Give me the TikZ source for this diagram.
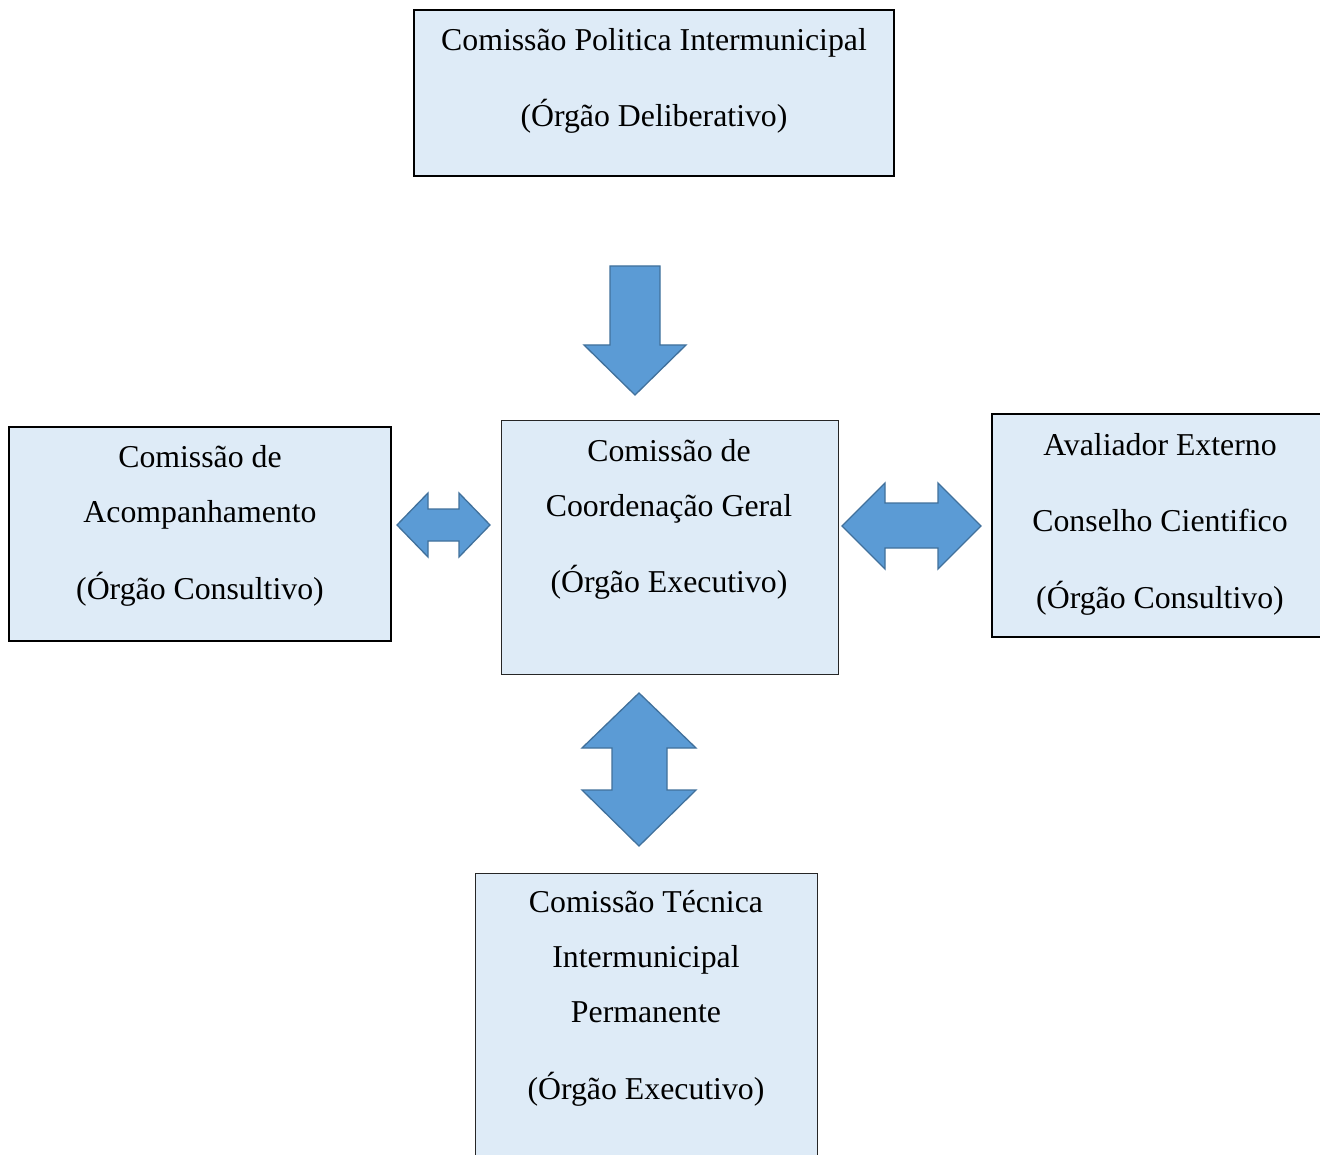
\documentclass[tikz,border=0pt]{standalone}
\usepackage{fontspec}
\setmainfont{Liberation Serif}
\begin{document}
\begin{tikzpicture}[x=1pt,y=-1pt,
  boxfill/.style={fill=boxblue},
  orgbox/.style={boxfill,draw=black,line width=1.3pt},
  lbl/.style={anchor=base,inner sep=0pt,font=\fontsize{31.8}{36}\selectfont},
  blockarrow/.style={fill=arrowfill,draw=arrowline,line width=1.3pt,line join=miter}]
\definecolor{boxblue}{HTML}{DEEBF7}
\definecolor{arrowfill}{HTML}{5B9BD5}
\definecolor{arrowline}{HTML}{41719C}
\useasboundingbox (0,0) rectangle (1320,1155);
\clip (0,0) rectangle (1320,1155);
\fill[white] (0,0) rectangle (1320,1155);
% boxes
\draw[orgbox,line width=2.2pt] (414,10) rectangle (894,176);
\draw[orgbox] (9,427) rectangle (391,641);
\draw[orgbox,line width=1pt,draw=black!85] (501,421) rectangle (838,674);
\draw[orgbox] (992,414) rectangle (1329,637);
\draw[orgbox,line width=1pt,draw=black!85] (475,873) rectangle (817,1170);
% texts
\node[lbl] (t1) at (654,51) {Comissão Politica Intermunicipal};
\node[lbl] (t2) at (654,127) {(Órgão Deliberativo)};
\node[lbl] (l1) at (200,467) {Comissão de};
\node[lbl] (l2) at (200,522) {Acompanhamento};
\node[lbl] (l3) at (200,599) {(Órgão Consultivo)};
\node[lbl] (c1) at (669,461) {Comissão de};
\node[lbl] (c2) at (669,516) {Coordenação Geral};
\node[lbl] (c3) at (669,592) {(Órgão Executivo)};
\node[lbl] (r1) at (1160,455) {Avaliador Externo};
\node[lbl] (r2) at (1160,531) {Conselho Cientifico};
\node[lbl] (r3) at (1160,608) {(Órgão Consultivo)};
\node[lbl] (b1) at (646,912) {Comissão Técnica};
\node[lbl] (b2) at (646,967) {Intermunicipal};
\node[lbl] (b3) at (646,1022) {Permanente};
\node[lbl] (b4) at (646,1099) {(Órgão Executivo)};
% down arrow
\draw[blockarrow] (610,266) -- (660,266) -- (660,345) -- (686,345) -- (635,395)
  -- (584,345) -- (610,345) -- cycle;
% left double arrow
\draw[blockarrow] (397,525) -- (428,493) -- (428,509) -- (459,509) -- (459,493)
  -- (490,525) -- (459,557) -- (459,541) -- (428,541) -- (428,557) -- cycle;
% right double arrow
\draw[blockarrow] (842,526) -- (885,483) -- (885,503) -- (938,503) -- (938,483)
  -- (981,526) -- (938,569) -- (938,548) -- (885,548) -- (885,569) -- cycle;
% vertical double arrow
\draw[blockarrow] (639,693) -- (696,748) -- (667,748) -- (667,790) -- (696,790)
  -- (639,846) -- (582,790) -- (612,790) -- (612,748) -- (582,748) -- cycle;
\end{tikzpicture}
\end{document}
